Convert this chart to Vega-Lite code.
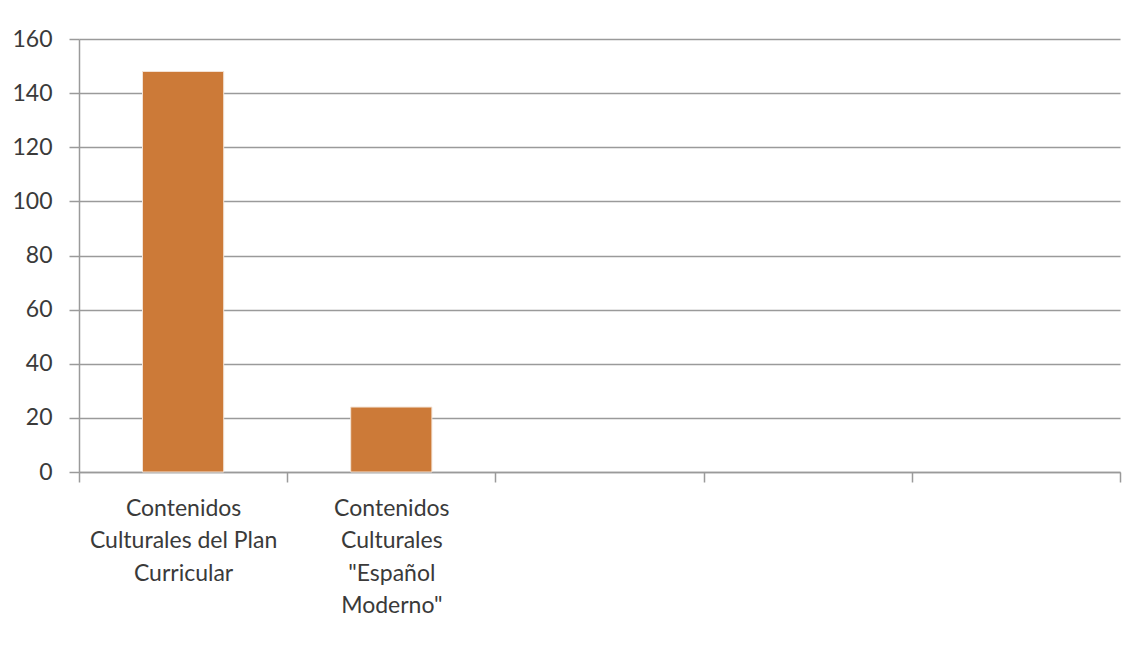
{
  "$schema": "https://vega.github.io/schema/vega-lite/v6.json",
  "autosize": {"type": "none"},
  "width": 1041,
  "height": 433,
  "padding": {"left": 79, "top": 39, "right": 12, "bottom": 199},
  "background": "white",
  "data": {
    "values": [
      {"id": "A", "categoria": "Contenidos Culturales del Plan Curricular", "valor": 148},
      {"id": "B", "categoria": "Contenidos Culturales 'Español Moderno'", "valor": 24}
    ]
  },
  "mark": {"type": "bar", "color": "#CC7A38", "stroke": "#f3e3d6", "strokeWidth": 1, "width": {"band": 0.39}},
  "encoding": {
    "x": {
      "field": "id",
      "type": "nominal",
      "sort": null,
      "scale": {
        "domain": ["A", "B", "C", "D", "E"],
        "paddingInner": 0,
        "paddingOuter": 0
      },
      "axis": {
        "title": null,
        "labelAngle": 0,
        "labelExpr": "datum.value == 'A' ? ['Contenidos', 'Culturales del Plan', 'Curricular'] : datum.value == 'B' ? ['Contenidos', 'Culturales', '\"Español', 'Moderno\"'] : ''",
        "labelFont": "Lato",
        "labelFontSize": 23,
        "labelColor": "#3a3a3a",
        "labelLineHeight": 32.5,
        "labelPadding": 15,
        "labelLimit": 400,
        "tickBand": "extent",
        "tickSize": 10,
        "tickColor": "#9a9a9a",
        "tickWidth": 1.5,
        "domainColor": "#9a9a9a",
        "domainWidth": 1.5,
        "grid": false
      }
    },
    "y": {
      "field": "valor",
      "type": "quantitative",
      "scale": {"domain": [0, 160], "nice": false},
      "axis": {
        "title": null,
        "values": [0, 20, 40, 60, 80, 100, 120, 140, 160],
        "labelFont": "Lato",
        "labelFontSize": 23,
        "labelColor": "#3a3a3a",
        "labelPadding": 17,
        "tickSize": 10,
        "tickColor": "#9a9a9a",
        "tickWidth": 1.5,
        "domainColor": "#9a9a9a",
        "domainWidth": 1.5,
        "grid": true,
        "gridColor": "#9a9a9a",
        "gridWidth": 1.5
      }
    },
    "tooltip": {"field": "categoria", "type": "nominal"}
  },
  "config": {"view": {"stroke": null}}
}
